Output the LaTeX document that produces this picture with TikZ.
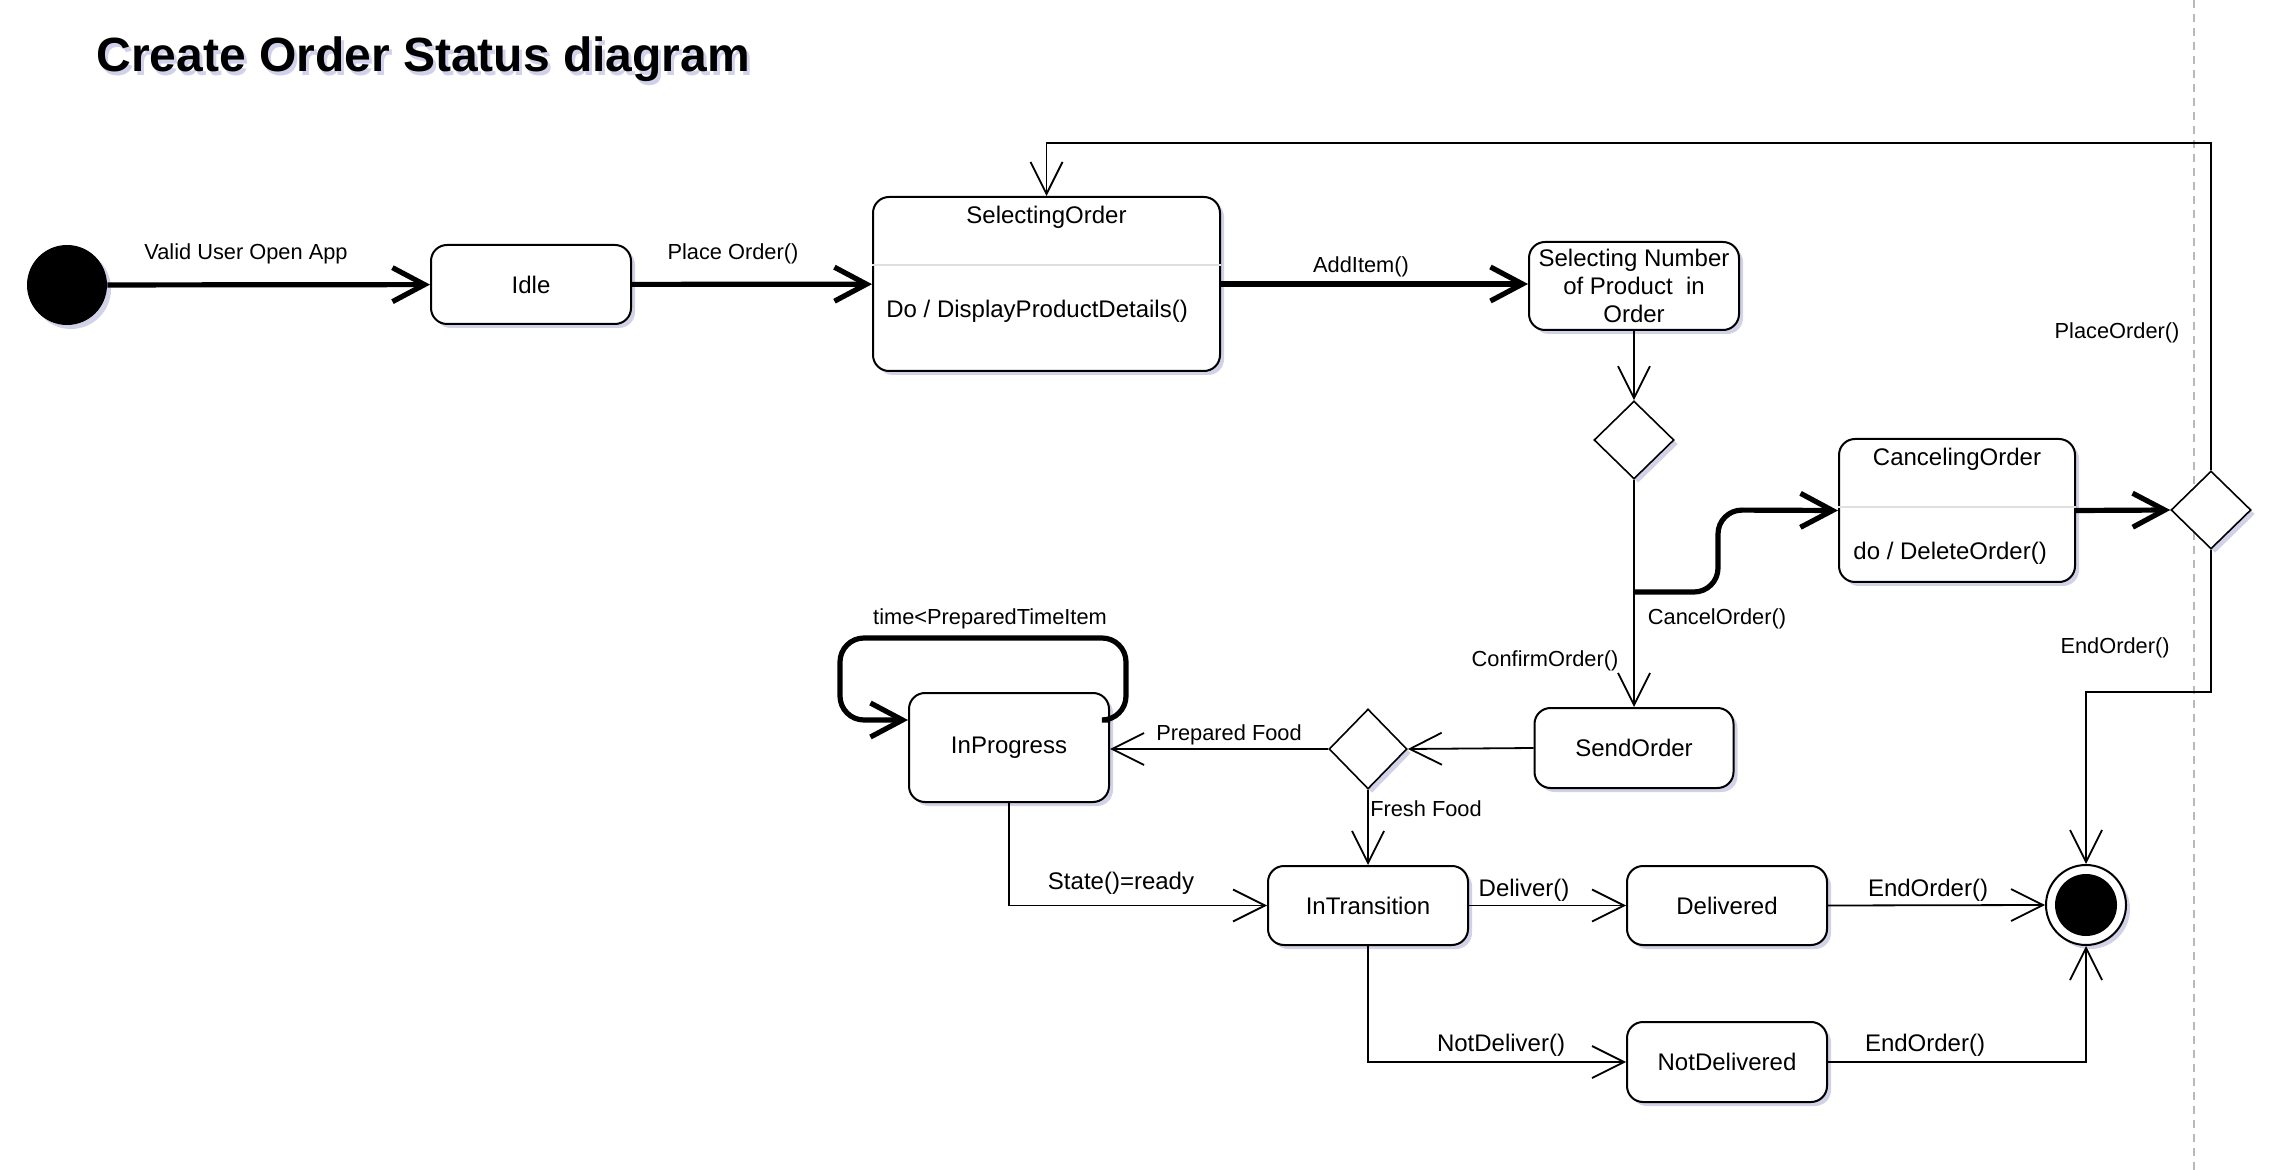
\documentclass[tikz,border=0pt]{standalone}
\usepackage{fontspec}
\setmainfont{Liberation Sans}
\usetikzlibrary{arrows.meta,shapes.geometric,shadows}
\begin{document}
\begin{tikzpicture}[x=0.5pt,y=-0.5pt,
  sh/.style={drop shadow={opacity=0.18, shadow xshift=2pt, shadow yshift=-2pt, fill=black!50!blue}},
  statebox/.style={draw, line width=1pt, rounded corners=8pt, fill=white, sh,
    font=\fontsize{12}{13.8}\selectfont, align=center, inner sep=2pt},
  choice/.style={draw, diamond, line width=0.8pt, fill=white, inner sep=0pt,
    minimum width=40pt, minimum height=39pt, sh},
  thinline/.style={line width=0.9pt, -{Straight Barb[length=16pt,width=16pt]}},
  thickline/.style={line width=2.6pt, -{Straight Barb[length=16pt,width=17pt]}},
  lbl/.style={font=\fontsize{10.9}{12}\selectfont, inner sep=1pt},
  lblbig/.style={font=\fontsize{12}{13}\selectfont, inner sep=1pt},
  txt/.style={font=\fontsize{12}{13.8}\selectfont, inner sep=0pt}
]
\useasboundingbox (0,0) rectangle (2270,1170);
\fill[white] (0,0) rectangle (2270,1170);

% separator
\draw[gray!55, line width=0.8pt, dash pattern=on 4pt off 3pt] (2194,0) -- (2194,1170);

% title
\node[anchor=west, inner sep=0pt, font=\bfseries\fontsize{24}{28}\selectfont, text=black!40!blue, opacity=0.18] at (99,63) {Create Order Status diagram};
\node[anchor=west, inner sep=0pt, font=\bfseries\fontsize{24}{28}\selectfont] (title) at (96,59) {Create Order Status diagram};

% states
\node[circle, fill=black, minimum size=40pt, inner sep=0pt, sh] (init) at (67,285) {};
\node[statebox, minimum width=100pt, minimum height=39.5pt] (idle) at (531,284.5) {Idle};
\node[statebox, minimum width=173.5pt, minimum height=87pt] (sel) at (1046.5,284) {};
\node[txt] (selt) at (1046.5,217) {SelectingOrder};
\node[txt, anchor=west] (selb) at (886,311) {Do / DisplayProductDetails()};
\draw[gray!25, line width=0.8pt] (sel.west |- 0,265) -- (sel.east |- 0,265);

\node[statebox, minimum width=105pt, minimum height=44pt] (num) at (1634,286) {Selecting Number\\of Product\ \ in\\Order};
\node[choice] (d1) at (1634,440) {};

\node[statebox, minimum width=118pt, minimum height=71.5pt] (cancel) at (1957,510.5) {};
\node[txt] (cancelt) at (1957,459) {CancelingOrder};
\node[txt, anchor=west] (cancelb) at (1853,553) {do / DeleteOrder()};
\draw[gray!25, line width=0.8pt] (cancel.west |- 0,507) -- (cancel.east |- 0,507);

\node[choice] (d2) at (2211,510) {};
\node[statebox, minimum width=99.5pt, minimum height=40pt] (send) at (1634,748) {SendOrder};
\node[choice, minimum width=39pt, minimum height=40pt] (d3) at (1368,749) {};
\node[statebox, minimum width=100pt, minimum height=54.5pt] (inprog) at (1009,747.5) {InProgress};
\node[statebox, minimum width=100pt, minimum height=39.5pt] (intrans) at (1368,905.5) {InTransition};
\node[statebox, minimum width=100pt, minimum height=39.5pt] (deliv) at (1727,905.5) {Delivered};
\node[statebox, minimum width=100pt, minimum height=40pt] (notdel) at (1727,1062) {NotDelivered};

\node[circle, draw, line width=1pt, fill=white, minimum size=40pt, inner sep=0pt, sh] (final) at (2086,905) {};
\node[circle, fill=black, minimum size=31pt, inner sep=0pt] (finalin) at (final.center) {};

% transitions
\draw[thickline] (init) -- (idle);
\draw[thickline] (idle) -- (sel);
\draw[thickline] (sel.east) -- (sel.east -| num.west);
\draw[thinline] (num) -- (d1);
\draw[thinline] (d1) -- (send);
\coordinate (cj) at (1634,592);
\draw[thickline, rounded corners=12pt] (cj) -- (1718,592) -- (1718,510) -- (cancel.west);
\draw[thickline] (cancel.east) -- (d2.west);
\draw[thinline] (d2.north) -- (2211,143) -- (1046.5,143) -- (sel.north);
\draw[thinline] (d2.south) -- (2211,692) -- (2086,692) -- (final.north);
\draw[thinline] (send.west) -- (d3.east);
\draw[thinline] (d3.west) -- (d3.west -| inprog.east);
\draw[thinline] (d3.south) -- (intrans.north);
\draw[thickline, rounded corners=12pt] (inprog.east |- 0,720) -- (1126,720) -- (1126,638) -- (840,638) -- (840,720) -- (inprog.west |- 0,720);
\draw[thinline] (inprog.south) |- (intrans.west);
\draw[thinline] (intrans.east) -- (deliv.west);
\draw[thinline] (deliv.east) -- (final.west);
\draw[thinline] (intrans.south) |- (notdel.west);
\draw[thinline] (notdel.east) -| (final.south);

% labels
\node[lbl] (l1) at (246,254) {Valid User Open App};
\node[lbl] (l2) at (733,254) {Place Order()};
\node[lbl] (l3) at (1361,267) {AddItem()};
\node[lbl] (l4) at (1545,661) {ConfirmOrder()};
\node[lbl] (l5) at (1717,619) {CancelOrder()};
\node[lbl] (l6) at (2117,333) {PlaceOrder()};
\node[lbl] (l7) at (2115,648) {EndOrder()};
\node[lbl] (l8) at (990,619) {time<PreparedTimeItem};
\node[lbl] (l9) at (1229,735) {Prepared Food};
\node[lbl] (l10) at (1426,809) {Fresh Food};
\node[lblbig] (l11) at (1121,883) {State()=ready};
\node[lblbig] (l12) at (1524,890) {Deliver()};
\node[lblbig] (l13) at (1928,890) {EndOrder()};
\node[lblbig] (l14) at (1501,1045) {NotDeliver()};
\node[lblbig] (l15) at (1925,1045) {EndOrder()};
\end{tikzpicture}
\end{document}
